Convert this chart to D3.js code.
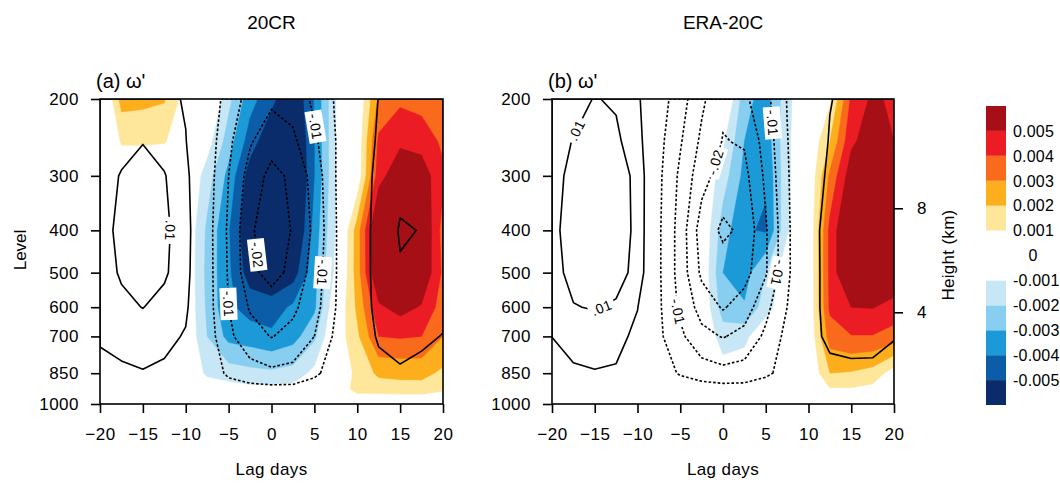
<!DOCTYPE html>
<html>
<head>
<meta charset="utf-8">
<script src="https://cdn.jsdelivr.net/npm/d3@7"></script>
<style>
  body { margin: 0; background: #fff; }
  svg { display: block; font-family: "Liberation Sans", Arial, Helvetica, sans-serif; }
</style>
</head>
<body>
<svg id="chart" width="1060" height="484"></svg>
<script>
// grid of the composites: lag days (columns) x pressure levels (rows, top to bottom)
const lags = [-20, -17.5, -15, -12.5, -10, -7.5, -5, -2.5, 0, 2.5, 5, 7.5, 10, 12.5, 15, 17.5, 20]
const levels = [200, 250, 300, 400, 500, 600, 700, 850, 925, 1000]

const levelTicks = [200, 300, 400, 500, 600, 700, 850, 1000]
const lagTicks = [-20, -15, -10, -5, 0, 5, 10, 15, 20]
const heightTicks = [4, 8]

// shaded omega' (units of 0.001)
const shadeA = [
    [-0.9, 2.4, 2.3, 2.1, 0.5, 0.5, -1.7, -3.6, -4.7, -6, -3.9, -1, 0, 3.2, 3.8, 3.6, 3.2],
    [-0.5, 1.1, 1.1, 1.05, 0.5, -0.5, -2.5, -4.5, -5.8, -6.5, -4, -1, 0.2, 4.2, 4.8, 4.6, 3.8],
    [0, 0.2, 0.3, 0.3, 0.2, -1.5, -3.3, -5.5, -6.5, -6.8, -4, -1, 0.2, 4.6, 5.8, 5.6, 4.2],
    [0, 0, 0, 0, 0, -2.2, -3.9, -6, -7, -6.5, -3.6, -0.9, 2.5, 6.5, 7.5, 6.2, 3.6],
    [0, 0, 0, 0, 0, -2.3, -3.8, -5.5, -6, -5.5, -3.3, -0.7, 2.5, 6.3, 7.2, 6, 3.8],
    [0, 0, 0, 0, 0, -2.2, -3.8, -4.4, -4.5, -3.8, -3.2, 0, 2.2, 4.8, 5.4, 4.9, 3.5],
    [0, 0, 0, 0, 0, -2, -3.3, -3.5, -3.8, -3.4, -2.2, 0.3, 1.8, 4.0, 4.1, 4.0, 3.0],
    [0, 0, 0, 0, 0, -1.2, -1.5, -1.7, -1.8, -1.6, -0.7, 0, 1.3, 2.2, 2.27, 2.3, 1.8],
    [0, 0, 0, 0, 0, -0.3, -0.5, -0.7, -0.7, -0.6, -0.3, 0, 1.5, 1.5, 1.6, 1.6, 1.2],
    [0, 0, 0, 0, 0, 0, 0, 0, 0, 0, 0, 0, -0.2, -0.2, -0.2, -0.2, -0.2]
]
const shadeB = [
    [0, 0, 0, 0, 0, 0, 0, 0, 0.5, -2.6, -3.5, -1.3, 0, 0.8, 4.2, 5.2, 4.8],
    [0, 0, 0, 0, 0, 0, 0, 0, -0.8, -3.0, -3.6, -1.2, 0, 2.0, 4.8, 5.6, 5.0],
    [0, 0, 0, 0, 0, 0, 0, 0, -1.5, -3.3, -3.9, -1.2, 0, 3.2, 5.6, 6.3, 5.6],
    [0, 0, 0, 0, 0, 0, 0, 0, -2.5, -3.89, -4.1, -1.1, 0, 4.3, 6.5, 7.0, 6.0],
    [0, 0, 0, 0, 0, 0, 0, 0, -3.0, -3.4, -2.0, -0.3, 0, 4.3, 6.5, 7.0, 6.0],
    [0, 0, 0, 0, 0, 0, 0, 0, -2.5, -2.9, -1.5, 0, 0, 4.2, 5.0, 5.05, 4.6],
    [0, 0, 0, 0, 0, 0, 0, 0, -1.5, -1.3, 0, 0, 0, 3.5, 3.95, 3.95, 3.6],
    [0, 0, 0, 0, 0, 0, 0, 0, -0.5, -0.3, 0, 0, 0, 2.0, 1.91, 1.6, 0.5],
    [0, 0, 0, 0, 0, 0, 0, 0, 0, 0, 0, 0, 0, 0.9, 0.9, 0.7, 0.2],
    [0, 0, 0, 0, 0, 0, 0, 0, 0, 0, 0, 0, 0, 0, 0, 0, 0]
]

// contoured field (units of 0.001, lines every 0.005)
const contourA = [
    [6, 7, 8, 6.5, 4.5, -1.5, -7, -12, -14, -13, -9, -4.5, -1, 5.2, 6, 6, 5.5],
    [7, 8.5, 9.8, 8, 5.2, -2, -9, -14.5, -18, -16, -11, -5, 0, 6, 7, 7, 6.5],
    [8, 10.3, 12, 10.3, 6.5, -2.5, -10, -17, -21.5, -19, -13, -5, 0.5, 7, 9, 8.5, 7.5],
    [8.5, 11, 13, 11, 7.4, -3, -10.8, -19, -24, -19.5, -14, -5.2, 1, 7.5, 10.3, 9.9, 8.5],
    [8, 10.5, 12, 10.7, 7, -3, -10.5, -18.5, -22, -18.5, -13, -5.2, 1, 7.5, 9.7, 9.3, 8],
    [7.5, 9, 10.1, 8.5, 6, -3, -10, -15.5, -17, -16, -12, -5, 1, 7, 8, 8, 6.5],
    [5.8, 7, 7.5, 6.5, 4.5, -2.5, -9, -13, -15.2, -13.5, -10, -4, 0.5, 5.8, 6.5, 6, 4.8],
    [3, 4, 4.7, 4, 2.5, -1.5, -6, -8, -9, -8.5, -6, -2.5, 0, 3, 4.5, 3.5, 3],
    [1.5, 2, 2, 2, 1, -0.5, -2.5, -3.2, -3.5, -3.5, -2.5, -1, 0, 1, 2, 2, 1.5],
    [0.5, 1, 1, 1, 0, 0, -0.5, -1, -1, -1, -0.5, 0, 0, 0, 1, 1, 0.5]
]
const contourB = [
    [7, 8.5, 10.2, 9.5, 6.1, -2.5, -7.8, -14, -19, -16, -11.5, -4.8, -1, 4.7, 7, 7, 6.5],
    [8, 10.2, 11.5, 10.8, 7.5, -3.5, -9.5, -16, -20.25, -19.5, -13, -5.2, -0.5, 5.5, 8, 8, 7.5],
    [8.5, 11.2, 12.5, 11.5, 9.2, -4, -11, -18, -22.5, -21.5, -14, -5.5, 0, 6.6, 9, 9, 8.5],
    [9, 11.7, 13, 11.8, 9.2, -4.3, -12, -22.5, -25.8, -24.1, -15.56, -6, 1, 8.7, 9.5, 9.5, 9],
    [8.5, 11.3, 12.5, 11.5, 8.8, -4.3, -12, -21, -23, -22, -15.5, -6, 1, 8.5, 9.5, 9.5, 8.5],
    [7, 9.8, 10.3, 9.5, 5.2, -4.2, -11, -17, -20.5, -17.5, -11.5, -5, 1, 8.5, 9, 9, 7.5],
    [5.05, 7, 7.5, 7, 3.4, -4, -9, -13.5, -15.3, -13.5, -9, -3.5, 1, 7.5, 8, 7.5, 5.2],
    [3, 4.2, 4.7, 4.3, 1.5, -2.5, -5.5, -7.5, -8.5, -8, -6, -3, 0, 2, 3, 3.2, 3.5],
    [1.5, 2, 2.2, 2, 0.5, -1, -2, -2.5, -3, -3, -2, -1, 0, 1.5, 1.5, 1.5, 1.5],
    [0.5, 1, 1, 0.5, 0, 0, -0.5, -1, -1, -1, -0.5, 0, 0, 0.5, 0.5, 0.5, 0.5]
]

const shadeSteps = [1, 2, 3, 4, 5]
const warmColors = ['#fee79b', '#fdae1c', '#f96a1d', '#ec1c24', '#a50f15']
const coolColors = ['#c8e7f6', '#88cef0', '#1b9ad7', '#0b5da8', '#0a2c6b']
const posLines = [5, 10]
const negLines = [5, 10, 15, 20, 25]
const barLabels = [-0.005, -0.004, -0.003, -0.002, -0.001, 0, 0.001, 0.002, 0.003, 0.004, 0.005]

// where the line labels sit (lag, hPa)
const labelsA = [
    { text: '.01', value: 10, lag: -11.8, p: 400 },
    { text: '-.01', value: -10, lag: -5.2, p: 590 },
    { text: '-.02', value: -20, lag: -1.6, p: 455 },
    { text: '-.01', value: -10, lag: 4.8, p: 232 },
    { text: '-.01', value: -10, lag: 5.9, p: 500 }
]
const labelsB = [
    { text: '.01', value: 10, lag: -17.3, p: 235 },
    { text: '.01', value: 10, lag: -14, p: 615 },
    { text: '-.02', value: -20, lag: -1.75, p: 276 },
    { text: '-.01', value: -10, lag: -5.5, p: 615 },
    { text: '-.01', value: -10, lag: 5.7, p: 227 },
    { text: '-.01', value: -10, lag: 6.3, p: 500 }
]

const svg = d3.select('#chart')
const plotTop = 99, plotBottom = 404
const y = d3.scaleLog().domain([200, 1000]).range([plotTop, plotBottom])
const nx = lags.length, ny = levels.length

const panels = [
    { title: '20CR', tag: '(a) \u03c9\'', left: 100, right: 443, shade: shadeA, lines: contourA, labels: labelsA },
    { title: 'ERA-20C', tag: '(b) \u03c9\'', left: 552, right: 894, shade: shadeB, lines: contourB, labels: labelsB, heightAxis: true }
]

// standard atmosphere: km -> hPa
const stdPressure = h => 1013.25 * Math.pow(1 - 2.25577e-5 * h * 1000, 5.25588)

const contours = d3.contours().size([nx, ny])
const colIdx = d3.scaleLinear().domain([0.5, nx - 0.5]).range([0, nx - 1]).clamp(true)
const rowIdx = d3.scaleLinear().domain([0.5, ny - 0.5]).range([0, ny - 1]).clamp(true)
const lagAt = d3.scaleLinear().domain(d3.range(nx)).range(lags)
const rowY = d3.scaleLinear().domain(d3.range(ny)).range(levels.map(y))

panels.forEach((panel, k) => {
    const x = d3.scaleLinear().domain([-20, 20]).range([panel.left, panel.right])
    const toPx = c => [x(lagAt(colIdx(c[0]))), rowY(rowIdx(c[1]))]
    const path = d3.geoPath(d3.geoTransform({
        point(cx, cy) { const q = toPx([cx, cy]); this.stream.point(q[0], q[1]) }
    }))

    const clipId = 'clip' + k
    svg.append('clipPath').attr('id', clipId)
        .append('rect')
        .attr('x', panel.left).attr('y', plotTop)
        .attr('width', panel.right - panel.left).attr('height', plotBottom - plotTop)

    const plot = svg.append('g').attr('clip-path', 'url(#' + clipId + ')')

    const shadeFlat = panel.shade.flat()
    const warm = contours.thresholds(shadeSteps)(shadeFlat)
    const cool = contours.thresholds(shadeSteps)(shadeFlat.map(v => -v))

    plot.selectAll('path.warm').data(warm).enter().append('path')
        .attr('class', 'warm')
        .attr('d', path)
        .attr('fill', (d, i) => warmColors[i])
        .attr('fill-rule', 'evenodd')
        .attr('stroke', (d, i) => warmColors[i])
        .attr('stroke-width', 0.4)
    plot.selectAll('path.cool').data(cool).enter().append('path')
        .attr('class', 'cool')
        .attr('d', path)
        .attr('fill', (d, i) => coolColors[i])
        .attr('fill-rule', 'evenodd')
        .attr('stroke', (d, i) => coolColors[i])
        .attr('stroke-width', 0.4)

    const lineFlat = panel.lines.flat()
    const pos = contours.thresholds(posLines)(lineFlat)
    const neg = contours.thresholds(negLines)(lineFlat.map(v => -v))

    plot.selectAll('path.pos').data(pos).enter().append('path')
        .attr('class', 'pos')
        .attr('d', path)
        .attr('fill', 'none')
        .attr('stroke', '#000')
        .attr('stroke-width', 1.6)
        .attr('stroke-linejoin', 'round')
    plot.selectAll('path.neg').data(neg).enter().append('path')
        .attr('class', 'neg')
        .attr('d', path)
        .attr('fill', 'none')
        .attr('stroke', '#000')
        .attr('stroke-width', 1.6)
        .attr('stroke-dasharray', '2.6,2')

    // labels sit on the nearest part of their contour, turned along it
    panel.labels.forEach(lab => {
        const set = lab.value > 0 ? pos : neg
        const geom = set.find(g => g.value === Math.abs(lab.value))
        if (!geom) return
        const tx = x(lab.lag), ty = y(lab.p)
        let best = null
        geom.coordinates.forEach(poly => poly.forEach(ring => {
            const pts = ring.map(toPx)
            for (let i = 0; i < pts.length - 1; i++) {
                const [ax, ay] = pts[i], [bx, by] = pts[i + 1]
                const dx = bx - ax, dy = by - ay, L2 = dx * dx + dy * dy
                if (L2 === 0) continue
                let t = ((tx - ax) * dx + (ty - ay) * dy) / L2
                t = Math.max(0, Math.min(1, t))
                const px = ax + t * dx, py = ay + t * dy
                const d = (px - tx) ** 2 + (py - ty) ** 2
                if (!best || d < best.d) best = { d, px, py, ang: Math.atan2(dy, dx) * 180 / Math.PI }
            }
        }))
        if (!best) return
        let a = best.ang
        while (a > 105) a -= 180
        while (a <= -75) a += 180
        const lg = plot.append('g')
            .attr('transform', 'translate(' + best.px + ',' + best.py + ') rotate(' + a + ')')
        const txt = lg.append('text')
            .attr('text-anchor', 'middle')
            .attr('dy', '0.36em')
            .attr('font-size', 14)
            .attr('letter-spacing', 0.5)
            .text(lab.text)
        const w = txt.node().getComputedTextLength()
        lg.insert('rect', 'text')
            .attr('x', -w / 2 - 3).attr('y', -8.5)
            .attr('width', w + 6).attr('height', 17)
            .attr('fill', '#fff')
    })

    // frame
    svg.append('rect')
        .attr('x', panel.left).attr('y', plotTop)
        .attr('width', panel.right - panel.left).attr('height', plotBottom - plotTop)
        .attr('fill', 'none').attr('stroke', '#000').attr('stroke-width', 1.6)

    const yAxis = svg.append('g')
        .attr('transform', 'translate(' + panel.left + ',0)')
        .call(d3.axisLeft(y).tickValues(levelTicks).tickFormat(d3.format('d')).tickSize(9).tickPadding(12))
    const xAxis = svg.append('g')
        .attr('transform', 'translate(0,' + plotBottom + ')')
        .call(d3.axisBottom(x).tickValues(lagTicks).tickFormat(d3.format('d')).tickSize(9).tickPadding(15))
    const axes = [yAxis, xAxis]

    if (panel.heightAxis) {
        const hAxis = svg.append('g')
            .attr('transform', 'translate(' + panel.right + ',0)')
            .call(d3.axisRight(y).tickValues(heightTicks.map(stdPressure))
                .tickFormat((d, i) => heightTicks[i]).tickSize(9).tickPadding(14))
        axes.push(hAxis)
        svg.append('text')
            .attr('transform', 'translate(954,255) rotate(-90)')
            .attr('text-anchor', 'middle')
            .attr('font-size', 17)
            .attr('letter-spacing', 0.3)
            .text('Height (km)')
    }

    axes.forEach(ax => {
        ax.select('.domain').remove()
        ax.selectAll('line').attr('stroke', '#000').attr('stroke-width', 1.6)
        ax.selectAll('text').attr('font-size', 17).attr('fill', '#000')
            .attr('font-family', '"Liberation Sans", Arial, sans-serif')
            .attr('letter-spacing', 0.5)
    })

    const mid = (panel.left + panel.right) / 2
    svg.append('text')
        .attr('x', mid).attr('y', 29)
        .attr('text-anchor', 'middle')
        .attr('font-size', 19)
        .text(panel.title)
    svg.append('text')
        .attr('x', panel.left - 4).attr('y', 88)
        .attr('font-size', 20)
        .text(panel.tag)
    svg.append('text')
        .attr('x', mid).attr('y', 475)
        .attr('text-anchor', 'middle')
        .attr('font-size', 17)
        .attr('letter-spacing', 0.4)
        .text('Lag  days')
})

svg.append('text')
    .attr('transform', 'translate(26,250) rotate(-90)')
    .attr('text-anchor', 'middle')
    .attr('font-size', 17)
    .text('Level')

// label bar
const barColors = coolColors.slice().reverse().concat(['#fff', '#fff'], warmColors)
const barY = d3.scaleLinear().domain([0, barColors.length]).range([405, 106])
const bar = svg.append('g')
bar.selectAll('rect').data(barColors).enter().append('rect')
    .attr('x', 986)
    .attr('y', (d, i) => barY(i + 1))
    .attr('width', 20)
    .attr('height', (d, i) => barY(i) - barY(i + 1))
    .attr('fill', d => d)
bar.selectAll('text').data(barLabels).enter().append('text')
    .attr('x', (d) => d === 0 ? 1033 : 1013)
    .attr('y', (d, i) => barY(i + 1))
    .attr('dy', '0.36em')
    .attr('text-anchor', d => d === 0 ? 'middle' : 'start')
    .attr('font-size', 16)
    .attr('letter-spacing', 0.2)
    .text(d => d === 0 ? '0' : d.toFixed(3))
</script>
</body>
</html>
